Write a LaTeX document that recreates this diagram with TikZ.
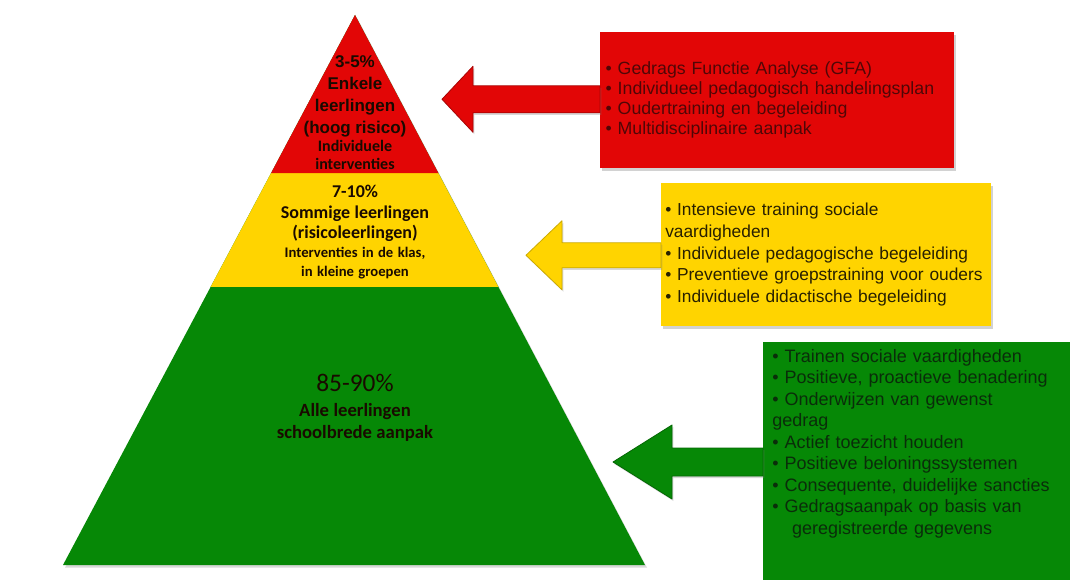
\documentclass[tikz,border=0pt]{standalone}
\usepackage{fontspec}
\setmainfont{Liberation Sans}
\newfontfamily\calfont{Carlito}
\usetikzlibrary{calc,shadows}

\definecolor{tierred}{RGB}{226,6,6}
\definecolor{tieryellow}{RGB}{255,212,0}
\definecolor{tiergreen}{RGB}{6,136,6}
\definecolor{redink}{RGB}{80,6,6}
\definecolor{yellowink}{RGB}{40,32,0}
\definecolor{greenink}{RGB}{10,45,10}
\definecolor{tierink}{RGB}{25,10,0}

\tikzset{
	infobox/.style={rectangle, anchor=north west, inner ysep=5.25pt, align=left,
		drop shadow={opacity=.35, shadow xshift=1.5pt, shadow yshift=-2pt}},
	tiertext/.style={anchor=north, inner sep=0pt, text width=220pt, align=center, text=tierink},
	blockarrow/.style={line width=.6pt, line join=round,
		drop shadow={opacity=.3, shadow xshift=1pt, shadow yshift=-1.5pt}}
}

\begin{document}
\begin{tikzpicture}[x=0.75pt,y=-0.75pt]
	\useasboundingbox (0,0) rectangle (1070,580);
	\fill[white] (0,0) rectangle (1070,580);

	\coordinate (apex) at (355,15);
	\coordinate (bl) at (63,565);
	\coordinate (br) at (645,565);
	\coordinate (rl) at ($(apex)!.2873!(bl)$);
	\coordinate (rr) at ($(apex)!.2873!(br)$);
	\coordinate (yl) at ($(apex)!.4945!(bl)$);
	\coordinate (yr) at ($(apex)!.4945!(br)$);
	\fill[tiergreen, drop shadow={opacity=.3, shadow xshift=1.5pt, shadow yshift=-2pt}] (apex) -- (br) -- (bl) -- cycle;
	\fill[tieryellow] (rl) -- (rr) -- (yr) -- (yl) -- cycle;
	\fill[tierred] (apex) -- (rr) -- (rl) -- cycle;

	\node[tiertext] (toptxt) at (355,55) {{\bfseries\fontsize{12.75}{16.5}\selectfont 3-5\%\par Enkele\par leerlingen\par (hoog risico)\par}{\calfont\bfseries\fontsize{12}{13.5}\selectfont Individuele\par interventies\par}};
	\node[tiertext] (midtxt) at (355,185) {{\calfont\bfseries\fontsize{13.5}{15.4}\selectfont 7-10\%\par Sommige leerlingen\par (risicoleerlingen)\par}{\calfont\bfseries\fontsize{11}{14.2}\selectfont Interventies in de klas,\par in kleine groepen\par}};
	\node[tiertext] (basetxt) at (355,374) {{\calfont\fontsize{19}{22}\selectfont 85-90\%\par}{\calfont\bfseries\fontsize{14}{18.75}\selectfont Alle leerlingen\par}{\calfont\bfseries\fontsize{14}{16.5}\selectfont schoolbrede aanpak\par}};

	\node[infobox, fill=tierred, text=redink, inner xsep=4pt, text width=257.5pt, minimum height=102pt,
		font=\fontsize{13.3}{15}\selectfont] (redbox) at (600,32) {\textbullet\ Gedrags Functie Analyse (GFA)\\
		\textbullet\ Individueel pedagogisch handelingsplan\\
		\textbullet\ Oudertraining en begeleiding\\
		\textbullet\ Multidisciplinaire aanpak};
	\node[infobox, fill=tieryellow, text=yellowink, inner xsep=3pt, text width=241.5pt, minimum height=107.25pt,
		font=\fontsize{13}{16.3}\selectfont] (yellowbox) at (661,183) {\textbullet\ Intensieve training sociale\\
		vaardigheden\\
		\textbullet\ Individuele pedagogische begeleiding\\
		\textbullet\ Preventieve groepstraining voor ouders\\
		\textbullet\ Individuele didactische begeleiding};
	\node[infobox, fill=tiergreen, text=greenink, inner xsep=6.75pt, text width=225pt, text depth=170pt,
		font=\fontsize{13.5}{16.1}\selectfont] (greenbox) at (763,342) {\textbullet\ Trainen sociale vaardigheden\\
		\textbullet\ Positieve, proactieve benadering\\
		\textbullet\ Onderwijzen van gewenst\\
		gedrag\\
		\textbullet\ Actief toezicht houden\\
		\textbullet\ Positieve beloningssystemen\\
		\textbullet\ Consequente, duidelijke sancties\\
		\textbullet\ Gedragsaanpak op basis van\\
		\hspace*{1.1em}geregistreerde gegevens};

	\path (redbox.west) ++(-158,-1) coordinate (redtip);
	\path (yellowbox.west) ++(-135,0.5) coordinate (yellowtip);
	\path (greenbox.north west) ++(-150,120) coordinate (greentip);

	\filldraw[blockarrow, fill=tierred, draw=tierred!75!black] (redtip) -- ++(31,-33) -- ++(0,19.5)
		-- ($(redtip -| redbox.west)+(0,-13.5)$) -- ++(0,27) -- ($(redtip)+(31,13.5)$) -- ++(0,19.5) -- cycle;
	\filldraw[blockarrow, fill=tieryellow, draw=tieryellow!80!black] (yellowtip) -- ++(36,-34.5) -- ++(0,22)
		-- ($(yellowtip -| yellowbox.west)+(0,-12.5)$) -- ++(0,25) -- ($(yellowtip)+(36,12.5)$) -- ++(0,22) -- cycle;
	\filldraw[blockarrow, fill=tiergreen, draw=tiergreen!75!black] (greentip) -- ++(59,-37) -- ++(0,23)
		-- ($(greentip -| greenbox.west)+(0,-14)$) -- ++(0,28) -- ($(greentip)+(59,14)$) -- ++(0,23) -- cycle;
\end{tikzpicture}
\end{document}
